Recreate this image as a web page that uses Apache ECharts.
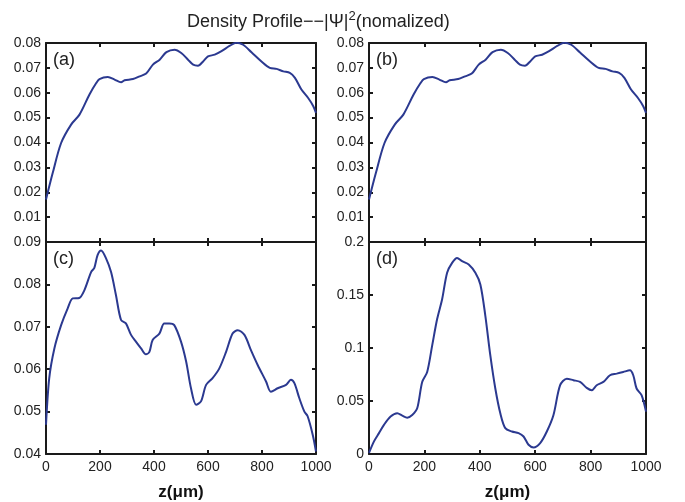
<!DOCTYPE html>
<html>
<head>
<meta charset="utf-8">
<script src="https://cdn.jsdelivr.net/npm/echarts@6/dist/echarts.min.js"></script>
<style>
  html, body { margin: 0; padding: 0; background: #fff; }
  #chart { width: 685px; height: 502px; }
</style>
</head>
<body>
<div id="chart"></div>
<script>
// panel (a) and (b) share the same profile
var zAB = [0, 25, 56, 93, 124, 161, 186, 198, 229, 254, 278, 291, 322, 347, 371, 396, 421, 446, 476, 501, 526, 545, 563, 582, 600, 625, 650, 681, 705, 730, 761, 798, 829, 854, 879, 903, 922, 946, 971, 990, 1000]
var densAB = [0.0171, 0.0278, 0.0398, 0.0472, 0.0512, 0.0593, 0.0639, 0.0655, 0.0663, 0.0653, 0.0642, 0.065, 0.0655, 0.0666, 0.0677, 0.0713, 0.0733, 0.0763, 0.0773, 0.076, 0.0733, 0.0713, 0.0709, 0.0726, 0.0746, 0.0753, 0.0767, 0.0789, 0.0801, 0.0793, 0.0763, 0.0726, 0.07, 0.0696, 0.0686, 0.068, 0.066, 0.0613, 0.0579, 0.0546, 0.0519]

var zC = [0, 12, 31, 56, 80, 99, 123, 142, 167, 179, 191, 204, 222, 241, 259, 278, 296, 315, 333, 352, 370, 383, 395, 420, 438, 457, 475, 500, 519, 537, 556, 574, 593, 617, 642, 667, 691, 710, 735, 759, 784, 815, 833, 858, 889, 907, 920, 938, 957, 969, 988, 1000]
var densC = [0.0469, 0.0579, 0.0649, 0.0704, 0.0743, 0.0767, 0.0768, 0.0786, 0.0829, 0.0839, 0.0869, 0.088, 0.0862, 0.0829, 0.0775, 0.0716, 0.0708, 0.0681, 0.0665, 0.0649, 0.0635, 0.0641, 0.0669, 0.0684, 0.0708, 0.0708, 0.0704, 0.0665, 0.0618, 0.0555, 0.0516, 0.0524, 0.0563, 0.0579, 0.0602, 0.0641, 0.0684, 0.0692, 0.0681, 0.0645, 0.061, 0.0571, 0.0547, 0.0555, 0.0563, 0.0575, 0.0567, 0.0532, 0.05, 0.0489, 0.0445, 0.0406]

var zD = [0, 18, 36, 54, 78, 102, 120, 138, 156, 174, 192, 210, 228, 246, 264, 282, 300, 318, 336, 360, 384, 402, 420, 438, 456, 474, 492, 516, 540, 558, 576, 594, 618, 642, 666, 690, 714, 738, 762, 786, 804, 822, 846, 870, 894, 918, 942, 954, 966, 984, 1000]
var densD = [0.001, 0.0119, 0.0197, 0.0275, 0.0353, 0.0384, 0.0362, 0.0343, 0.0368, 0.0431, 0.068, 0.0774, 0.1023, 0.1273, 0.146, 0.171, 0.1803, 0.185, 0.1819, 0.1788, 0.171, 0.16, 0.1304, 0.093, 0.0618, 0.0384, 0.0244, 0.0212, 0.0197, 0.0165, 0.0087, 0.0062, 0.0103, 0.0212, 0.0368, 0.0649, 0.0711, 0.0696, 0.068, 0.0624, 0.0602, 0.0649, 0.068, 0.0743, 0.0758, 0.0774, 0.0789, 0.0743, 0.0618, 0.0555, 0.04]

var panelNames = ['(a)', '(b)', '(c)', '(d)']
var yRanges = [[0, 0.08, 0.01], [0, 0.08, 0.01], [0.04, 0.09, 0.01], [0, 0.2, 0.05]]

function pairs(xs, ys) {
  var out = []
  for (var i = 0; i < xs.length; i++) out.push([xs[i], ys[i]])
  return out
}

var font = 'Liberation Sans, Arial, Helvetica, sans-serif'
var lineColor = '#2b3990'
var grids = [
  { left: 46, top: 43, width: 270, height: 199 },
  { left: 369, top: 43, width: 277, height: 199 },
  { left: 46, top: 242, width: 270, height: 214 },
  { left: 369, top: 242, width: 277, height: 214 }
]
var dataSets = [pairs(zAB, densAB), pairs(zAB, densAB), pairs(zC, densC), pairs(zD, densD)]

var xAxes = []
var yAxes = []
var series = []
var graphics = []
for (var i = 0; i < 4; i++) {
  var bottomRow = i >= 2
  var axisLine = { show: true, onZero: false, lineStyle: { color: '#1a1a1a', width: 2 } }
  var tick = { show: true, inside: true, length: 4, lineStyle: { color: '#1a1a1a', width: 2 } }
  xAxes.push({
    gridIndex: i, type: 'value', position: 'bottom', min: 0, max: 1000, interval: 200,
    axisLine: axisLine, axisTick: tick, splitLine: { show: false },
    axisLabel: {
      show: bottomRow, fontFamily: font, fontSize: 14, color: '#222', margin: 6,
      formatter: function (v) { return String(v) }
    },
    name: bottomRow ? 'z(μm)' : '', nameLocation: 'middle', nameGap: 30,
    nameTextStyle: { fontFamily: font, fontSize: 17, fontWeight: 'bold', color: '#111' }
  })
  xAxes.push({
    gridIndex: i, type: 'value', position: 'top', min: 0, max: 1000, interval: 200,
    axisLine: axisLine, axisTick: tick, splitLine: { show: false }, axisLabel: { show: false }
  })
  var r = yRanges[i]
  yAxes.push({
    gridIndex: i, type: 'value', position: 'left', min: r[0], max: r[1], interval: r[2],
    axisLine: axisLine, axisTick: tick, splitLine: { show: false },
    axisLabel: { fontFamily: font, fontSize: 14, color: '#222', margin: 5, showMinLabel: bottomRow }
  })
  yAxes.push({
    gridIndex: i, type: 'value', position: 'right', min: r[0], max: r[1], interval: r[2],
    axisLine: axisLine, axisTick: tick, splitLine: { show: false }, axisLabel: { show: false }
  })
  series.push({
    type: 'line', xAxisIndex: i * 2, yAxisIndex: i * 2, data: dataSets[i],
    showSymbol: false, smooth: 0.3, lineStyle: { color: lineColor, width: 2 },
    silent: true
  })
  graphics.push({
    type: 'text', left: grids[i].left + 7, top: grids[i].top + 8,
    style: { text: panelNames[i], font: '18px ' + font, fill: '#222' }
  })
}

var chart = echarts.init(document.getElementById('chart'))
chart.setOption({
  animation: false,
  backgroundColor: '#fff',
  title: {
    text: 'Density Profile−−|Ψ|{sup|2}(nomalized)',
    left: 182, top: 5,
    textStyle: {
      fontFamily: font, fontSize: 18, fontWeight: 'normal', color: '#222',
      rich: { sup: { fontFamily: font, fontSize: 13, color: '#222', padding: [0, 0, 12, 0] } }
    }
  },
  grid: grids,
  xAxis: xAxes,
  yAxis: yAxes,
  series: series,
  graphic: graphics
})
</script>
</body>
</html>
